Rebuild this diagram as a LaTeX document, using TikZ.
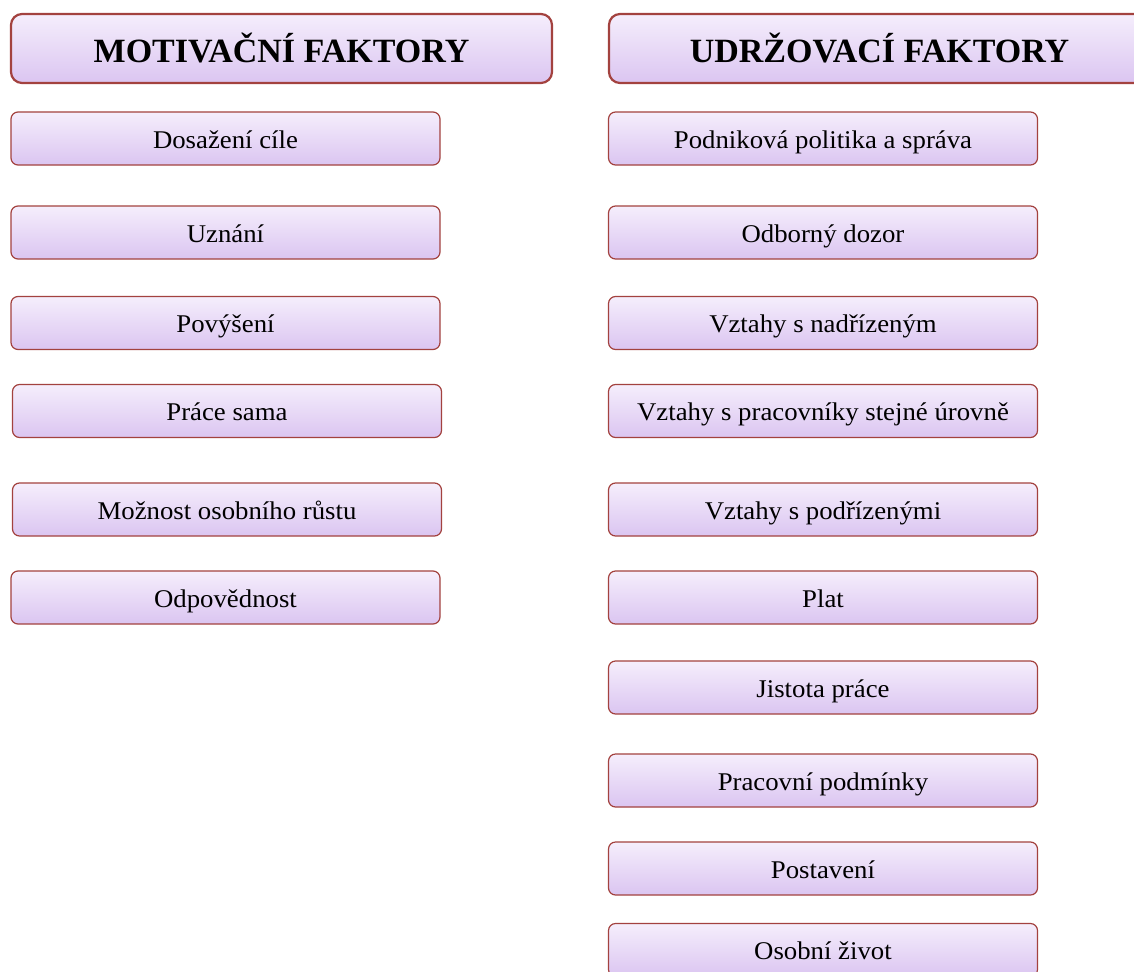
\documentclass[tikz,border=0pt]{standalone}
\usepackage{fontspec}
\setmainfont{Liberation Serif}
\newfontfamily\widefont[FakeStretch=1.05]{Liberation Serif}
\definecolor{boxtop}{HTML}{F5EEFC}
\definecolor{boxbot}{HTML}{DBC5F1}
\definecolor{boxline}{HTML}{A3423F}
\tikzset{
  factor/.style={draw=boxline, line width=1.2pt, rounded corners=7pt,
    top color=boxtop, bottom color=boxbot, inner sep=0pt,
    minimum width=429pt, minimum height=53pt,
    text height=19pt, text depth=0pt,
    font=\widefont\fontsize{25.5}{30}\selectfont},
  heading/.style={factor, line width=2.2pt, rounded corners=11pt,
    minimum width=541pt, minimum height=69pt,
    text height=29pt, text depth=0pt,
    font=\rmfamily\fontsize{34}{40}\selectfont\bfseries}
}
\begin{document}
\begin{tikzpicture}[x=1pt,y=-1pt]
\clip (0,0) rectangle (1134,971);
% headings
\node[heading] (mot) at (281.5,48.5) {MOTIVAČNÍ FAKTORY};
\node[heading] (udr) at (879.5,48.5) {UDRŽOVACÍ FAKTORY};
% motivation factors
\node[factor] (cil)   at (225.5,138.5) {Dosažení cíle};
\node[factor] (uzn)   at (225.5,232.5) {Uznání};
\node[factor] (pov)   at (225.5,323)   {Povýšení};
\node[factor] (prace) at (227,411)     {Práce sama};
\node[factor] (rust)  at (227,509.5)   {Možnost osobního růstu};
\node[factor] (odp)   at (225.5,597.5) {Odpovědnost};
% hygiene factors
\node[factor] (pol)   at (823,138.5) {Podniková politika a správa};
\node[factor] (dozor) at (823,232.5) {Odborný dozor};
\node[factor] (nadr)  at (823,323)   {Vztahy s nadřízeným};
\node[factor] (prac)  at (823,411)   {Vztahy s pracovníky stejné úrovně};
\node[factor] (podr)  at (823,509.5) {Vztahy s podřízenými};
\node[factor] (plat)  at (823,597.5) {Plat};
\node[factor] (jist)  at (823,687.5) {Jistota práce};
\node[factor] (podm)  at (823,780.5) {Pracovní podmínky};
\node[factor] (post)  at (823,868.5) {Postavení};
\node[factor] (zivot) at (823,950)   {Osobní život};
\end{tikzpicture}
\end{document}
